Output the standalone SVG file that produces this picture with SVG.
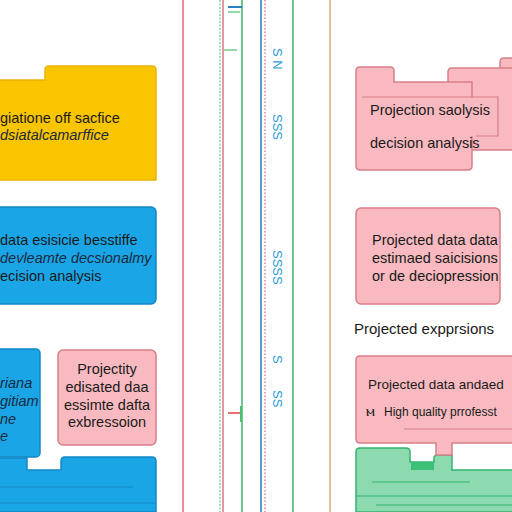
<svg xmlns="http://www.w3.org/2000/svg" width="512" height="512" viewBox="0 0 512 512">
<style>
text{font-family:"Liberation Sans",Arial,sans-serif;}
.t{font-size:14.5px;fill:#1a1a1a;}
.ti{font-size:14.5px;fill:#1a2a40;font-style:italic;}
.yel{fill:#F9C400;stroke:#E8B400;stroke-width:1.5;}
.blu{fill:#1AA5E6;stroke:#1487C6;stroke-width:1.5;}
.pnk{fill:#F8BAC0;stroke:#D77F88;stroke-width:1.5;}
.grn{fill:#8DD9B0;stroke:#2FB56C;stroke-width:1.5;}
.rot{font-size:13px;fill:#2A9AD6;}
</style>
<rect width="512" height="512" fill="#ffffff"/>
<g id="connectors" fill="none">
<line x1="183" y1="0" x2="183" y2="512" stroke="#E0404A" stroke-width="1.2"/>
<line x1="220" y1="0" x2="220" y2="512" stroke="#3CC060" stroke-width="1" stroke-dasharray="2 1.5"/>
<line x1="223" y1="0" x2="223" y2="512" stroke="#D84F68" stroke-width="1.2"/>
<line x1="242" y1="0" x2="242" y2="512" stroke="#1FA855" stroke-width="1.3"/>
<line x1="261" y1="0" x2="261" y2="512" stroke="#1C7FC0" stroke-width="1.5"/>
<line x1="265" y1="0" x2="265" y2="512" stroke="#E0404A" stroke-width="1" stroke-dasharray="1.5 2"/>
<line x1="293" y1="0" x2="293" y2="512" stroke="#1FA855" stroke-width="1.3"/>
<line x1="330" y1="0" x2="330" y2="512" stroke="#C49A5A" stroke-width="1.2"/>
<line x1="228" y1="7" x2="242" y2="7" stroke="#2A7FC0" stroke-width="2"/>
<line x1="228" y1="12" x2="240" y2="12" stroke="#4CC070" stroke-width="1.2"/>
<line x1="224" y1="50" x2="237" y2="50" stroke="#4CC070" stroke-width="1.2"/>
<line x1="228" y1="413" x2="240" y2="413" stroke="#E0404A" stroke-width="1.5"/>
<line x1="241" y1="406" x2="241" y2="422" stroke="#4CC070" stroke-width="2"/>
</g>
<g id="rotlabels">
<text class="rot" transform="translate(273,48) rotate(90)">S N</text>
<text class="rot" transform="translate(273,114) rotate(90)">SSS</text>
<text class="rot" transform="translate(273,250) rotate(90)">SSSS</text>
<text class="rot" transform="translate(273,355) rotate(90)">S</text>
<text class="rot" transform="translate(273,390) rotate(90)">SS</text>
</g>
<g id="node-yellow">
<path class="yel" d="M-2 80 H45 V70 Q45 66 49 66 H152 Q156 66 156 70 V180 H-2 Z"/>
<text class="t" x="0" y="123">giatione off sacfice</text>
<text class="ti" x="0" y="140">dsiatalcamarffice</text>
</g>
<g id="node-blue">
<rect class="blu" x="-4" y="207" width="160" height="97" rx="5"/>
<text class="t" x="0" y="245">data  esisicie besstiffe</text>
<text class="ti" x="0" y="263">devleamte decsionalmy</text>
<text class="t" x="0" y="281">ecision analysis</text>
</g>
<g id="node-blue-small">
<rect class="blu" x="-4" y="349" width="44" height="108" rx="4"/>
<text class="ti" x="0" y="388">riana</text>
<text class="ti" x="0" y="406">gitiam</text>
<text class="ti" x="0" y="424">ne</text>
<text class="ti" x="0" y="441">e</text>
</g>
<g id="node-pink-left">
<rect class="pnk" x="58" y="350" width="98" height="95" rx="5"/>
<text class="t" x="107" y="374" text-anchor="middle">Projectity</text>
<text class="t" x="107" y="392" text-anchor="middle">edisated daa</text>
<text class="t" x="107" y="410" text-anchor="middle">essimte dafta</text>
<text class="t" x="107" y="427" text-anchor="middle">exbressoion</text>
</g>
<g id="node-blue-bottom">
<path class="blu" d="M-2 458 H27 V470 H61 V461 Q61 457 65 457 H152 Q156 457 156 461 V512 H-2 Z"/>
<line x1="0" y1="487" x2="133" y2="487" stroke="#1487C6" stroke-width="1"/>
<line x1="0" y1="503" x2="156" y2="503" stroke="#1487C6" stroke-width="1"/>
</g>
<g id="node-pink-stack">
<path class="pnk" d="M500 80 V62 Q500 58 504 58 H514 V140 H500 Z"/>
<path class="pnk" d="M448 90 V72 Q448 68 452 68 H514 V150 H448 Z"/>
<path class="pnk" d="M356 71 Q356 67 360 67 H390 Q394 67 394 71 V82 H472 V166 Q472 170 468 170 H360 Q356 170 356 166 Z"/>
<rect x="400" y="98" width="98" height="38" fill="#F8BAC0"/>
<path d="M362 97 H498 V136 H476" fill="none" stroke="#D77F88" stroke-width="1.2"/>
<text class="t" x="370" y="115">Projection saolysis</text>
<text class="t" x="370" y="148">decision analysis</text>
</g>
<g id="node-pink-mid">
<rect class="pnk" x="356" y="208" width="144" height="96" rx="5"/>
<text class="t" x="372" y="245">Projected data data</text>
<text class="t" x="372" y="263">estimaed saicisions</text>
<text class="t" x="372" y="281">or de deciopression</text>
</g>
<g id="label-expressions">
<text class="t" x="354" y="334" style="font-size:15px">Projected expprsions</text>
</g>
<g id="node-green">
<path class="grn" d="M356 452 Q356 448 360 448 H406 Q410 448 410 452 V462 H434 V458 Q434 455 438 455 H452 V470 H514 V512 H356 Z"/>
<rect x="411" y="462" width="23" height="8" fill="#3CBF77"/>
<line x1="356" y1="496" x2="514" y2="496" stroke="#2FB56C" stroke-width="1.2"/>
<line x1="372" y1="482" x2="470" y2="482" stroke="#2FB56C" stroke-width="1"/>
<line x1="376" y1="505" x2="512" y2="505" stroke="#2FB56C" stroke-width="1"/>
</g>
<g id="node-pink-bottom">
<path class="pnk" d="M356 360 Q356 356 360 356 H514 V443 H452 V455 H436 V443 H360 Q356 443 356 439 Z"/>
<line x1="404" y1="429" x2="514" y2="429" stroke="#D77F88" stroke-width="1"/>
<text class="t" x="368" y="389" style="font-size:13.5px">Projected data andaed</text>
<text class="t" x="366" y="416" font-size="10">ⲙ</text>
<text class="t" x="384" y="416" style="font-size:12px">High quality prrofesst</text>
</g>
</svg>
